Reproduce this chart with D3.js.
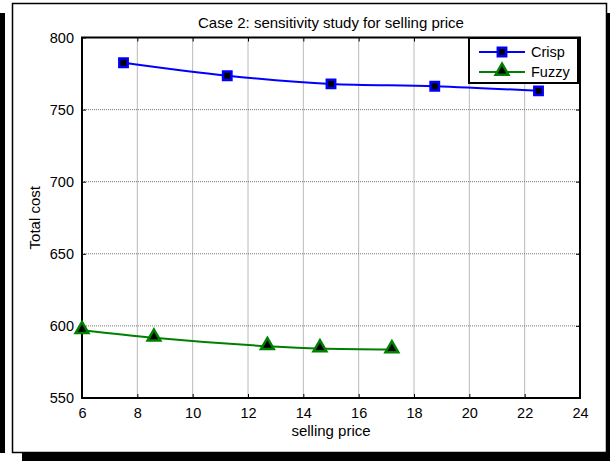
<!DOCTYPE html>
<html>
<head>
<meta charset="utf-8">
<script src="https://cdn.jsdelivr.net/npm/d3@7"></script>
<style>
  body { margin: 0; background: #fff; }
  svg { display: block; font-family: "Liberation Sans", Arial, sans-serif; }
</style>
</head>
<body>
<svg width="610" height="461"></svg>
<script>
var width = 610, height = 461;

// data
var crispX = [7.5, 11.25, 15, 18.75, 22.5];
var crispY = [782.5, 773.5, 767.8, 766.2, 763];
var fuzzyX = [6, 8.6, 12.7, 14.6, 17.2];
var fuzzyY = [597, 591.7, 585.9, 584.3, 583.6];
var xTicks = [6, 8, 10, 12, 14, 16, 18, 20, 22, 24];
var yTicks = [550, 600, 650, 700, 750, 800];
var seriesNames = ["Crisp", "Fuzzy"];

var svg = d3.select("svg");

// shadow + frame
svg.append("rect").attr("x", 0).attr("y", 13).attr("width", 5).attr("height", 440).attr("fill", "#000");
svg.append("rect").attr("x", 22).attr("y", 453).attr("width", 588).attr("height", 8).attr("fill", "#000");
svg.append("rect").attr("x", 607).attr("y", 13).attr("width", 3).attr("height", 448).attr("fill", "#000");
svg.append("rect").attr("x", 12.5).attr("y", 3.5).attr("width", 594).attr("height", 449)
    .attr("fill", "#fff").attr("stroke", "#000").attr("stroke-width", 1.5);

var margin = {left: 82, right: 580, top: 37.5, bottom: 398};
var x = d3.scaleLinear().domain([6, 24]).range([margin.left, margin.right]);
var y = d3.scaleLinear().domain([550, 800]).range([margin.bottom, margin.top]);

var group = svg.append("g");

// grid
group.append("g").selectAll("line").data(xTicks.slice(1, -1)).enter()
    .append("line")
    .attr("x1", function (d) { return x(d); }).attr("x2", function (d) { return x(d); })
    .attr("y1", margin.top).attr("y2", margin.bottom)
    .attr("stroke", "#666").attr("stroke-width", 0.9).attr("stroke-dasharray", "1,1");
group.append("g").selectAll("line").data(yTicks.slice(1, -1)).enter()
    .append("line")
    .attr("y1", function (d) { return y(d); }).attr("y2", function (d) { return y(d); })
    .attr("x1", margin.left).attr("x2", margin.right)
    .attr("stroke", "#666").attr("stroke-width", 0.9).attr("stroke-dasharray", "1,1");

// axes, ticks inside on all four sides
function styleAxis(g) {
    g.select(".domain").remove();
    g.selectAll(".tick line").attr("stroke", "#000").attr("stroke-width", 1);
    g.selectAll(".tick text").attr("fill", "#000").attr("font-size", "14.5px");
}
group.append("g").attr("transform", "translate(0," + margin.bottom + ")")
    .call(d3.axisBottom(x).tickValues(xTicks).tickSizeInner(-4).tickSizeOuter(0).tickPadding(10))
    .call(styleAxis);
group.append("g").attr("transform", "translate(0," + margin.top + ")")
    .call(d3.axisTop(x).tickValues(xTicks).tickSizeInner(-4).tickSizeOuter(0).tickFormat(""))
    .call(styleAxis);
group.append("g").attr("transform", "translate(" + margin.left + ",0)")
    .call(d3.axisLeft(y).tickValues(yTicks).tickSizeInner(-4).tickSizeOuter(0).tickPadding(8))
    .call(styleAxis);
group.append("g").attr("transform", "translate(" + margin.right + ",0)")
    .call(d3.axisRight(y).tickValues(yTicks).tickSizeInner(-4).tickSizeOuter(0).tickFormat(""))
    .call(styleAxis);

group.append("rect")
    .attr("x", margin.left).attr("y", margin.top)
    .attr("width", margin.right - margin.left).attr("height", margin.bottom - margin.top)
    .attr("fill", "none").attr("stroke", "#000").attr("stroke-width", 2);

// lines
var line = d3.line()
    .x(function (d) { return x(d[0]); })
    .y(function (d) { return y(d[1]); })
    .curve(d3.curveMonotoneX);

var crisp = d3.zip(crispX, crispY), fuzzy = d3.zip(fuzzyX, fuzzyY);

group.append("path").datum(crisp).attr("d", line)
    .attr("fill", "none").attr("stroke", "#0000ff").attr("stroke-width", 2);
group.append("path").datum(fuzzy).attr("d", line)
    .attr("fill", "none").attr("stroke", "#008000").attr("stroke-width", 2);

var square = d3.symbol().type(d3.symbolSquare).size(70);
var triangle = d3.symbol().type(d3.symbolTriangle).size(70);

group.append("g").selectAll("path").data(crisp).enter()
    .append("path").attr("d", square)
    .attr("transform", function (d) { return "translate(" + x(d[0]) + "," + y(d[1]) + ")"; })
    .attr("fill", "#000").attr("stroke", "#0000ff").attr("stroke-width", 2.5);
group.append("g").selectAll("path").data(fuzzy).enter()
    .append("path").attr("d", triangle)
    .attr("transform", function (d) { return "translate(" + x(d[0]) + "," + (y(d[1]) - 1) + ")"; })
    .attr("fill", "#000").attr("stroke", "#008000").attr("stroke-width", 2.5)
    .attr("stroke-linejoin", "miter");

// titles
svg.append("text").attr("x", (margin.left + margin.right) / 2).attr("y", 28)
    .attr("text-anchor", "middle").attr("font-size", "15px").text("Case 2: sensitivity study for selling price");
svg.append("text").attr("x", (margin.left + margin.right) / 2).attr("y", 436)
    .attr("text-anchor", "middle").attr("font-size", "15px").text("selling price");
svg.append("text").attr("transform", "translate(40," + ((margin.top + margin.bottom) / 2) + ") rotate(-90)")
    .attr("text-anchor", "middle").attr("font-size", "15px").text("Total cost");

// legend
var legend = svg.append("g");
legend.append("rect").attr("x", 469).attr("y", 38).attr("width", 109).attr("height", 45)
    .attr("fill", "#fff").attr("stroke", "#000").attr("stroke-width", 2);
var legColors = ["#0000ff", "#008000"];
var legSymbols = [square, triangle];
seriesNames.forEach(function (name, i) {
    var ly = 52 + i * 20;
    legend.append("line").attr("x1", 479).attr("x2", 525).attr("y1", ly).attr("y2", ly)
        .attr("stroke", legColors[i]).attr("stroke-width", 2);
    legend.append("path").attr("d", legSymbols[i])
        .attr("transform", "translate(502," + (ly - i) + ")")
        .attr("fill", "#000").attr("stroke", legColors[i]).attr("stroke-width", 2.5);
    legend.append("text").attr("x", 531).attr("y", ly + 5).attr("font-size", "14.5px").text(name);
});
</script>
</body>
</html>
